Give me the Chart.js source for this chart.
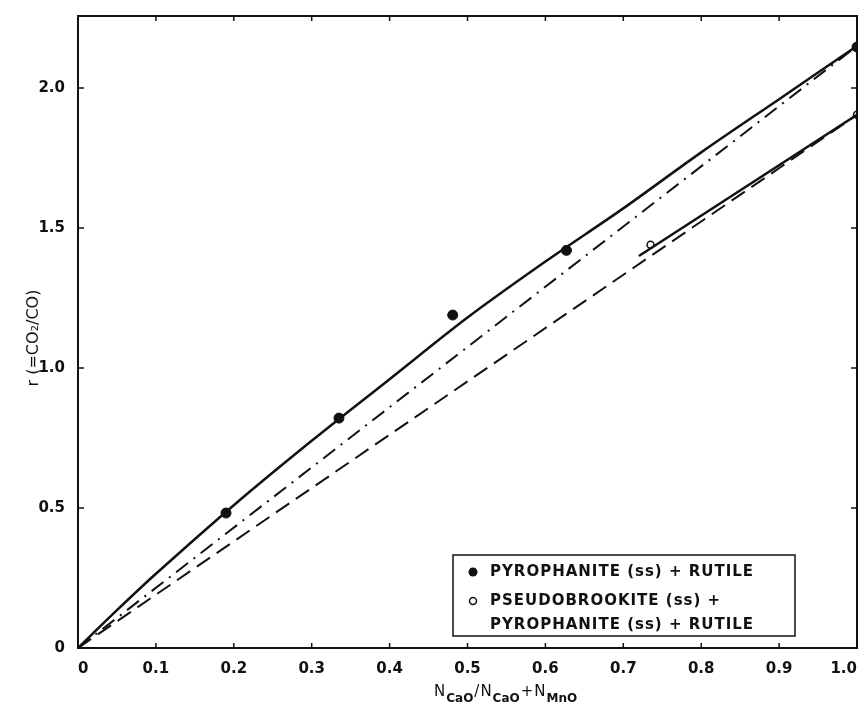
<!DOCTYPE html>
<html>
<head>
<meta charset="utf-8">
<script src="https://cdn.jsdelivr.net/npm/chart.js@4"></script>
<style>
  html, body { margin: 0; padding: 0; background: #fff; }
  #wrap { width: 866px; height: 706px; }
</style>
</head>
<body>
<div id="wrap"><canvas id="chartR"></canvas></div>
<script>
// measured points
const pyroX = [0.19, 0.335, 0.481, 0.627, 1.0];
const pyroY = [0.482, 0.821, 1.189, 1.42, 2.146];
const pseudoX = [0.735, 1.0];
const pseudoY = [1.44, 1.904];

// fitted curves
const curveX = [0, 0.05, 0.1, 0.2, 0.3, 0.4, 0.5, 0.6, 0.7, 0.8, 0.9, 1.0];
const curveY = [0, 0.135, 0.265, 0.51, 0.74, 0.96, 1.18, 1.38, 1.57, 1.77, 1.96, 2.15];
const pseudoLineX = [0.72, 1.0];
const pseudoLineY = [1.40, 1.904];
const upperDashX = [0, 1.0];
const upperDashY = [0, 2.15];
const lowerDashX = [0, 1.0];
const lowerDashY = [0, 1.904];

const xTicks = [0, 0.1, 0.2, 0.3, 0.4, 0.5, 0.6, 0.7, 0.8, 0.9, 1.0];
const yTicks = [0, 0.5, 1.0, 1.5, 2.0];

const legendRows = ["PYROPHANITE (ss) + RUTILE", "PSEUDOBROOKITE (ss) +", "PYROPHANITE (ss) + RUTILE"];

const pts = (xs, ys) => xs.map((x, i) => ({ x: x, y: ys[i] }));
const fmt = v => v === 0 ? "0" : v.toFixed(1);

const frame = {
  id: "frame",
  afterDraw(chart) {
    const ctx = chart.ctx, a = chart.chartArea;
    const sx = chart.scales.x, sy = chart.scales.y;
    ctx.save();
    ctx.strokeStyle = "#111";
    ctx.lineWidth = 2;
    ctx.strokeRect(a.left, a.top, a.right - a.left, a.bottom - a.top);
    ctx.lineWidth = 1.5;
    ctx.beginPath();
    xTicks.slice(1, -1).forEach(v => {
      const px = sx.getPixelForValue(v);
      ctx.moveTo(px, a.bottom); ctx.lineTo(px, a.bottom - 5);
      ctx.moveTo(px, a.top); ctx.lineTo(px, a.top + 5);
    });
    yTicks.slice(1).forEach(v => {
      const py = sy.getPixelForValue(v);
      ctx.moveTo(a.left, py); ctx.lineTo(a.left + 6, py);
      ctx.moveTo(a.right, py); ctx.lineTo(a.right - 6, py);
    });
    ctx.stroke();

    // legend box
    ctx.lineWidth = 1.5;
    ctx.strokeRect(453, 555, 342, 81);
    ctx.fillStyle = "#111";
    ctx.font = "bold 15px 'DejaVu Sans'";
    ctx.letterSpacing = "1px";
    ctx.textBaseline = "middle";
    const rowY = [572, 601, 625];
    legendRows.forEach((t, i) => ctx.fillText(t, 490, rowY[i]));
    ctx.letterSpacing = "0px";
    ctx.beginPath(); ctx.arc(473, rowY[0], 4.5, 0, Math.PI * 2); ctx.fill();
    ctx.beginPath(); ctx.arc(473, rowY[1], 3.5, 0, Math.PI * 2); ctx.lineWidth = 1.5; ctx.stroke();

    // y title
    ctx.save();
    ctx.translate(34, 338);
    ctx.rotate(-Math.PI / 2);
    ctx.textAlign = "center";
    ctx.font = "16px 'DejaVu Sans'";
    ctx.fillText("r (=CO\u2082/CO)", 0, 0);
    ctx.restore();

    // x title with subscripts
    const parts = [["N", 0], ["CaO", 1], ["/", 0], ["N", 0], ["CaO", 1], ["+", 0], ["N", 0], ["MnO", 1]];
    let x = 434;
    ctx.textAlign = "left";
    ctx.textBaseline = "alphabetic";
    parts.forEach(([t, sub]) => {
      ctx.font = sub ? "bold 12px 'DejaVu Sans'" : "15px 'DejaVu Sans'";
      ctx.fillText(t, x, sub ? 702 : 696);
      x += ctx.measureText(t).width + 1;
    });
    ctx.restore();
  }
};

new Chart("chartR", {
  type: "scatter",
  data: {
    datasets: [
      { data: pts(curveX, curveY), showLine: true, borderColor: "#111", borderWidth: 2.5, pointRadius: 0, tension: 0.3 },
      { data: pts(upperDashX, upperDashY), showLine: true, borderColor: "#111", borderWidth: 2, borderDash: [15, 7, 2, 7], pointRadius: 0 },
      { data: pts(lowerDashX, lowerDashY), showLine: true, borderColor: "#111", borderWidth: 2, borderDash: [16, 8], pointRadius: 0 },
      { data: pts(pseudoLineX, pseudoLineY), showLine: true, borderColor: "#111", borderWidth: 2.5, pointRadius: 0 },
      { data: pts(pyroX, pyroY), pointRadius: 5, backgroundColor: "#111", borderColor: "#111" },
      { data: pts(pseudoX, pseudoY), pointRadius: 3.5, backgroundColor: "#fff", borderColor: "#111", borderWidth: 1.5 }
    ]
  },
  options: {
    responsive: true,
    maintainAspectRatio: false,
    animation: false,
    layout: { padding: { top: 16, right: 9, left: 0, bottom: 0 } },
    plugins: { legend: { display: false }, tooltip: { enabled: false } },
    scales: {
      x: {
        type: "linear", min: 0, max: 1.0,
        grid: { display: false }, border: { display: false },
        afterBuildTicks: s => { s.ticks = xTicks.map(v => ({ value: v })); },
        afterFit: s => { s.height = 58; s.paddingLeft = 0; s.paddingRight = 0; },
        ticks: { align: "inner", padding: 4, color: "#111", font: { family: "DejaVu Sans", size: 15, weight: "bold" }, callback: v => fmt(v), maxRotation: 0 }
      },
      y: {
        type: "linear", min: 0, max: 2.257,
        grid: { display: false }, border: { display: false },
        afterBuildTicks: s => { s.ticks = yTicks.map(v => ({ value: v })); },
        afterFit: s => { s.width = 78; },
        ticks: { padding: 5, color: "#111", font: { family: "DejaVu Sans", size: 15, weight: "bold" }, callback: v => fmt(v) }
      }
    }
  },
  plugins: [frame]
});
</script>
</body>
</html>
